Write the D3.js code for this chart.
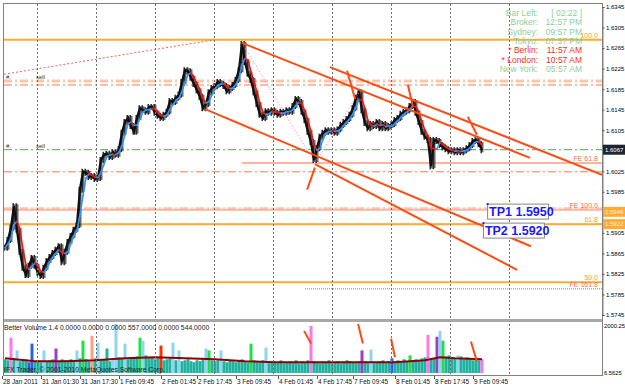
<!DOCTYPE html>
<html>
<head>
<meta charset="utf-8">
<script src="https://cdnjs.cloudflare.com/ajax/libs/d3/7.8.5/d3.min.js"></script>
<style>
  body { margin: 0; background: #ffffff; }
  svg { display: block; font-family: "Liberation Sans", Arial, sans-serif; }
</style>
</head>
<body>
<div id="chart"></div>
<script>
// ***** Data *****
// close prices, one every 3 bars
var closes = [
  1.5876, 1.5891, 1.5915, 1.5957, 1.5911, 1.5868, 1.5837, 1.5823, 1.5841, 1.5856,
  1.5841, 1.5827, 1.5821, 1.5837, 1.5850, 1.5858, 1.5866, 1.5872, 1.5879, 1.5848,
  1.5868, 1.5887, 1.5899, 1.5911, 1.5920, 1.5989, 1.6024, 1.6022, 1.6014, 1.6016,
  1.6010, 1.6012, 1.6047, 1.6057, 1.6059, 1.6053, 1.6062, 1.6057, 1.6068, 1.6100,
  1.6121, 1.6129, 1.6113, 1.6102, 1.6129, 1.6148, 1.6144, 1.6141, 1.6150, 1.6150,
  1.6139, 1.6133, 1.6129, 1.6135, 1.6141, 1.6162, 1.6160, 1.6168, 1.6174, 1.6199,
  1.6222, 1.6220, 1.6207, 1.6195, 1.6183, 1.6170, 1.6148, 1.6156, 1.6179, 1.6187,
  1.6191, 1.6199, 1.6195, 1.6191, 1.6181, 1.6187, 1.6193, 1.6203, 1.6222, 1.6273,
  1.6238, 1.6215, 1.6203, 1.6179, 1.6156, 1.6135, 1.6129, 1.6142, 1.6139, 1.6144,
  1.6139, 1.6135, 1.6141, 1.6139, 1.6144, 1.6141, 1.6152, 1.6166, 1.6160, 1.6141,
  1.6125, 1.6102, 1.6082, 1.6047, 1.6070, 1.6092, 1.6100, 1.6105, 1.6102, 1.6105,
  1.6100, 1.6107, 1.6115, 1.6121, 1.6127, 1.6135, 1.6148, 1.6168, 1.6179, 1.6144,
  1.6119, 1.6109, 1.6117, 1.6113, 1.6121, 1.6109, 1.6117, 1.6109, 1.6113, 1.6117,
  1.6125, 1.6129, 1.6137, 1.6141, 1.6144, 1.6152, 1.6160, 1.6139, 1.6121, 1.6102,
  1.6092, 1.6086, 1.6035, 1.6086, 1.6084, 1.6076, 1.6072, 1.6068, 1.6064, 1.6066,
  1.6062, 1.6066, 1.6062, 1.6066, 1.6070, 1.6076, 1.6084, 1.6086, 1.6078, 1.6066
];

// volume per bar and the colour code the indicator gave it
var volumes = [
  560, 520, 1440, 600, 920, 480, 520, 560, 440, 1200,
  480, 520, 440, 920, 480, 520, 560, 1000, 480, 560,
  520, 480, 560, 520, 920, 600, 1320, 560, 480, 1520,
  600, 1240, 520, 560, 1000, 480, 560, 2000, 640, 600,
  1200, 560, 640, 600, 680, 1440, 1320, 720, 600, 640,
  560, 600, 1120, 520, 560, 600, 1240, 520, 920, 480,
  520, 560, 480, 440, 520, 480, 560, 1000, 920, 520,
  480, 520, 920, 480, 440, 520, 480, 440, 520, 560,
  480, 440, 1200, 520, 480, 440, 520, 1040, 480, 440,
  480, 440, 520, 400, 440, 480, 440, 520, 400, 480,
  440, 520, 1920, 480, 440, 400, 480, 440, 520, 400,
  440, 480, 400, 440, 520, 480, 440, 400, 480, 920,
  480, 440, 960, 400, 440, 480, 520, 440, 480, 600,
  480, 520, 440, 560, 480, 720, 520, 560, 480, 600,
  640, 1560, 560, 600, 1480, 1720, 1320, 680, 720, 640,
  600, 720, 680, 560, 640, 600, 520, 560, 520, 560
];
var volColors = (
  "ttmtbtttkk" + "tttbtttptt" + "ttttbtgtto" + "tbttttbbtt" +
  "bttttgbttt" + "ttrtttbtbt" + "tttttttbgt" + "ttbttttttt" +
  "ttgttttbtt" + "tttttttttt" + "ttmttttttt" + "tttttttttp" +
  "ttbttttttk" + "tttttgtttt" + "tmttpbgttt" + "tbtttttttm"
).split("");

// smoothed volume line of the indicator
var volMaIdx = [0, 10, 20, 30, 40, 50, 60, 70, 80, 90, 100, 110, 120, 130, 140, 145, 150, 159];
var volMa = [600, 480, 480, 520, 600, 640, 600, 560, 480, 440, 440, 440, 440, 440, 520, 640, 600, 560];

// price axis
var priceTicks = [1.6345, 1.6305, 1.6265, 1.6225, 1.6185, 1.6145, 1.6105, 1.6025, 1.5985,
                  1.5905, 1.5865, 1.5825, 1.5785, 1.5745];
var lastPrice = 1.6067;

// time axis (bar index of each label)
var timeLabels = ["28 Jan 2011", "31 Jan 01:30", "31 Jan 17:30", "1 Feb 09:45", "2 Feb 01:45",
                  "2 Feb 17:45", "3 Feb 09:45", "4 Feb 01:45", "4 Feb 17:45", "7 Feb 09:45",
                  "8 Feb 01:45", "8 Feb 17:45", "9 Feb 09:45"];
var timeIdx = [-1, 12, 25, 38, 52, 64, 77, 91, 104, 116, 130, 143, 156];
var gridIdx = [10.7, 30.3, 50, 69.7, 89.3, 109, 128.7, 148.3, 168];

// fibonacci retracement + expansion levels
var fibLevels = [1.6281, 1.5922, 1.5809];
var fibNames = ["100.0", "61.8", "50.0"];
var feLevels = [1.6041, 1.5950, 1.5796];
var feNames = ["FE 61.8", "FE 100.0", "FE 161.8"];
var feStart = [79, -2, 100];

// dash-dot order lines
var dashLevels = [1.6201, 1.6193, 1.6024, 1.5952, 1.5922];
var dashLight = [true, false, false, true, false];

// trend channel lines [idx1, price1, idx2, price2]
var channelLines = [
  [79, 1.6275, 175, 1.6051],
  [108.3, 1.6228, 199, 1.6018],
  [66.7, 1.6146, 175.3, 1.5879],
  [103.3, 1.6039, 170.7, 1.5833]
];
// short marker strokes
var markers = [
  [114, 1.6221, 116.7, 1.6166],
  [100.7, 1.5989, 103.3, 1.6032],
  [134.3, 1.6193, 136, 1.6150],
  [154.3, 1.6131, 157.3, 1.6096]
];
var volMarkers = [
  [99.7, 1720, 102, 1200],
  [117.7, 2000, 119.3, 1200],
  [128.7, 1400, 130, 640],
  [155.3, 1280, 157.3, 480]
];
var redDotted = [[-0.3, 1.6214], [69.7, 1.6281]];
var zigzag = [[79, 1.6275], [103.3, 1.6041], [118, 1.6179]];

// TP texts
var tpTexts = ["TP1 1.5950", "TP2 1.5920"];
var tpIdx = [160.7, 159.3];
var tpPrice = [1.5962, 1.5925];

// clock panel
var infoLabels = ["Bar Left:", "Broker:", "Sydney:", "Tokyo:", "* Berlin:", "* London:", "New York:"];
var infoValues = ["[ 02:22 ]", "12:57 PM", "09:57 PM", "07:57 PM", "11:57 AM", "10:57 AM", "05:57 AM"];
var infoRed = [false, false, false, false, true, true, false];

// ***** Chart setup *****
var svgWidth = 625;
var svgHeight = 387;

var svg = d3.select("#chart").append("svg")
  .attr("width", svgWidth)
  .attr("height", svgHeight);

var xScale = d3.scaleLinear().domain([0, closes.length - 1]).range([5, 482]);
var yScale = d3.scaleLinear().domain([1.5745, 1.6345]).range([315, 7]);
var vScale = d3.scaleLinear().domain([0, 2000.25]).range([373, 324]);

var colorMap = {
  t: "#22b3a0", b: "#8fd3f5", g: "#22dd44", r: "#ff3300", m: "#ff77ee",
  p: "#9a3fc6", o: "#ff9d86", k: "#2a62e0", y: "#f0f020"
};

// clip for price area
svg.append("clipPath").attr("id", "pclip").append("rect")
  .attr("x", 4).attr("y", 4).attr("width", 598).attr("height", 315);
svg.append("clipPath").attr("id", "vclip").append("rect")
  .attr("x", 4).attr("y", 323).attr("width", 598).attr("height", 52);

var price = svg.append("g").attr("clip-path", "url(#pclip)");
var volume = svg.append("g").attr("clip-path", "url(#vclip)");

// vertical grid
gridIdx.forEach(function(g) {
  svg.append("line")
    .attr("x1", Math.round(xScale(g)) + 0.5).attr("x2", Math.round(xScale(g)) + 0.5)
    .attr("y1", 4).attr("y2", 375)
    .attr("stroke", "#707070").attr("stroke-dasharray", "2,2");
});

// dash-dot order lines
dashLevels.forEach(function(p, i) {
  price.append("line")
    .attr("x1", 4).attr("x2", 602)
    .attr("y1", yScale(p)).attr("y2", yScale(p))
    .attr("stroke", dashLight[i] ? "#ffc4aa" : "#f47a55")
    .attr("stroke-width", dashLight[i] ? 3 : 1)
    .attr("stroke-dasharray", "8,3,2,3");
});

// current price line
price.append("line")
  .attr("x1", 4).attr("x2", 602)
  .attr("y1", yScale(lastPrice)).attr("y2", yScale(lastPrice))
  .attr("stroke", "#5aa05a").attr("stroke-dasharray", "8,3,2,3");

// fibo retracement levels
fibLevels.forEach(function(p, i) {
  price.append("line")
    .attr("x1", 4).attr("x2", 602)
    .attr("y1", yScale(p)).attr("y2", yScale(p))
    .attr("stroke", "#ffaa33").attr("stroke-width", 2);
  svg.append("text")
    .attr("x", 598).attr("y", yScale(p) - 2)
    .attr("text-anchor", "end").attr("font-size", 7)
    .attr("fill", "#ff9a2a").text(fibNames[i]);
});

// fibo expansion levels
feLevels.forEach(function(p, i) {
  price.append("line")
    .attr("x1", xScale(feStart[i])).attr("x2", 602)
    .attr("y1", yScale(p)).attr("y2", yScale(p))
    .attr("stroke", i == 2 ? "#f06060" : "#ffb4a0")
    .attr("stroke-width", i == 2 ? 1 : 2)
    .attr("stroke-dasharray", i == 2 ? "1,1" : null);
  svg.append("text")
    .attr("x", 598).attr("y", yScale(p) - 2)
    .attr("text-anchor", "end").attr("font-size", 7)
    .attr("fill", "#f07050").text(feNames[i]);
});

// red dotted trendline
price.append("path")
  .attr("d", d3.line().x(d => xScale(d[0])).y(d => yScale(d[1]))(redDotted))
  .attr("fill", "none").attr("stroke", "#f06050").attr("stroke-dasharray", "2,2");

// price bars: each bar spans from previous close to this close, plus wicks
closes.forEach(function(c, i) {
  var prev = i > 0 ? closes[i - 1] : c;
  var hi = yScale(Math.max(prev, c)) - 3;
  var lo = yScale(Math.min(prev, c)) + 3;
  price.append("line")
    .attr("x1", xScale(i) - 0.8).attr("x2", xScale(i) - 0.8)
    .attr("y1", hi).attr("y2", lo)
    .attr("stroke", "#1a1a1a").attr("stroke-width", 1.4);
  price.append("line")
    .attr("x1", xScale(i) + 0.8).attr("x2", xScale(i) + 0.8)
    .attr("y1", hi + 1).attr("y2", lo - 1)
    .attr("stroke", "#444").attr("stroke-width", 1.2);
});
price.append("path")
  .attr("d", d3.line().x((d, i) => xScale(i)).y(d => yScale(d))(closes))
  .attr("fill", "none").attr("stroke", "#111").attr("stroke-width", 2.4);

// moving average coloured by direction
var ma = closes.map(function(c, i) {
  var s = closes.slice(Math.max(0, i - 2), i + 1);
  return d3.mean(s);
});
for (var i = 1; i < ma.length; i++) {
  price.append("line")
    .attr("x1", xScale(i - 1)).attr("y1", yScale(ma[i - 1]))
    .attr("x2", xScale(i)).attr("y2", yScale(ma[i]))
    .attr("stroke", ma[i] >= ma[i - 1] ? "#2f95ff" : "#ff1010")
    .attr("stroke-width", 1.6)
    .attr("stroke-linecap", "round");
}

// zigzag dotted
price.append("path")
  .attr("d", d3.line().x(d => xScale(d[0])).y(d => yScale(d[1]))(zigzag))
  .attr("fill", "none").attr("stroke", "#ee66ee").attr("stroke-dasharray", "1,2");

// channel lines
channelLines.forEach(function(l) {
  price.append("line")
    .attr("x1", xScale(l[0])).attr("y1", yScale(l[1]))
    .attr("x2", xScale(l[2])).attr("y2", yScale(l[3]))
    .attr("stroke", "#ff4a10").attr("stroke-width", 2);
});
markers.forEach(function(l) {
  price.append("line")
    .attr("x1", xScale(l[0])).attr("y1", yScale(l[1]))
    .attr("x2", xScale(l[2])).attr("y2", yScale(l[3]))
    .attr("stroke", "#ff4a10").attr("stroke-width", 2);
});

// TP labels
tpTexts.forEach(function(t, i) {
  var tx = xScale(tpIdx[i]), ty = yScale(tpPrice[i]);
  svg.append("rect")
    .attr("x", tx + 0.5).attr("y", ty + 0.5)
    .attr("width", 61).attr("height", 15)
    .attr("fill", "#fff").attr("stroke", "#888");
  svg.append("text")
    .attr("x", tx + 2).attr("y", ty + 12)
    .attr("font-size", 12.5).attr("font-weight", "bold")
    .attr("fill", "#1a1aff").text(t);
  svg.append("rect")
    .attr("x", tx - 0.5).attr("y", ty - 0.5).attr("width", 2).attr("height", 2)
    .attr("fill", "#2222ff");
});

// left labels
[1.6201, 1.6067].forEach(function(p) {
  svg.append("text").attr("x", 6).attr("y", yScale(p) - 2)
    .attr("font-size", 6).attr("fill", "#333").text("#.");
  svg.append("text").attr("x", 36).attr("y", yScale(p) - 2)
    .attr("font-size", 6).attr("fill", "#333").text("sell");
});

// ***** Volume panel *****
volumes.forEach(function(v, i) {
  volume.append("rect")
    .attr("x", xScale(i) - 1.5).attr("y", vScale(v))
    .attr("width", 3).attr("height", vScale(0) - vScale(v))
    .attr("fill", colorMap[volColors[i]]);
});
volume.append("path")
  .attr("d", d3.line().x((d, i) => xScale(volMaIdx[i])).y(d => vScale(d))(volMa))
  .attr("fill", "none").attr("stroke", "#8b0000").attr("stroke-width", 2);
volMarkers.forEach(function(l) {
  volume.append("line")
    .attr("x1", xScale(l[0])).attr("y1", vScale(l[1]))
    .attr("x2", xScale(l[2])).attr("y2", vScale(l[3]))
    .attr("stroke", "#ff4a10").attr("stroke-width", 2);
});
svg.append("text").attr("x", 4).attr("y", 330)
  .attr("font-size", 6.8).attr("fill", "#222")
  .text("Better Volume 1.4 0.0000 0.0000 0.0000 557.0000 0.0000 544.0000");
svg.append("text").attr("x", 4).attr("y", 372)
  .attr("font-size", 6.8).attr("fill", "#222")
  .text("IFX Trader, \u00a9 2001-2010 MetaQuotes Software Corp.");

// ***** Frame and axes *****
svg.append("rect").attr("x", 3.5).attr("y", 3.5).attr("width", 599).attr("height", 372)
  .attr("fill", "none").attr("stroke", "#808080");
svg.append("rect").attr("x", 4).attr("y", 319).attr("width", 598).attr("height", 3)
  .attr("fill", "#a8a8a8");

var rightAxis = d3.axisRight(yScale).tickValues(priceTicks).tickSize(2)
  .tickFormat(d3.format(".4f"));
var yAxis = svg.append("g").attr("transform", "translate(602.5,0)").call(rightAxis);
yAxis.select(".domain").attr("stroke", "#808080");
yAxis.selectAll("text").attr("font-size", 6).attr("font-family", "Liberation Sans, Arial").attr("x", 3.5);
yAxis.selectAll("line").attr("stroke", "#555");

// price boxes
[[lastPrice, "#1d2530", "#ffffff"], [1.5946, "#ffaa33", "#fff4d0"], [1.5922, "#ffaa33", "#fff4d0"]]
  .forEach(function(b) {
    svg.append("rect").attr("x", 603).attr("y", yScale(b[0]) - 5)
      .attr("width", 22).attr("height", 10).attr("fill", b[1]);
    svg.append("text").attr("x", 605).attr("y", yScale(b[0]) + 2.2)
      .attr("font-size", 6).attr("fill", b[2]).text(d3.format(".4f")(b[0]));
  });

svg.append("text").attr("x", 604).attr("y", 328).attr("font-size", 5.8).text("2000.25");
svg.append("text").attr("x", 604).attr("y", 375).attr("font-size", 5.8).text("6.5625");

// time axis
timeLabels.forEach(function(t, i) {
  var tx = Math.max(2, xScale(timeIdx[i]));
  svg.append("line").attr("x1", tx + 0.5).attr("x2", tx + 0.5)
    .attr("y1", 376).attr("y2", 379).attr("stroke", "#555");
  svg.append("text").attr("x", tx + 1).attr("y", 383.5)
    .attr("font-size", 6.4).attr("fill", "#111").text(t);
});

// clock panel
infoLabels.forEach(function(t, i) {
  var yy = 16 + i * 9.3;
  var col = infoRed[i] ? "#ff2a2a" : "#8ccf98";
  svg.append("text").attr("x", 538).attr("y", yy).attr("text-anchor", "end")
    .attr("font-size", 8.5).attr("fill", col).text(t);
  svg.append("text").attr("x", 582).attr("y", yy).attr("text-anchor", "end")
    .attr("font-size", 8.5).attr("fill", col).text(infoValues[i]);
});
</script>
</body>
</html>
